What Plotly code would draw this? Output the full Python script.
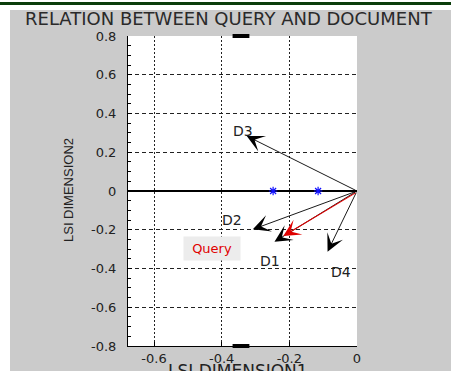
import plotly.graph_objects as go

# ---- data ----
doc_names = ["D1", "D2", "D3", "D4"]
doc_x = [-0.244, -0.308, -0.326, -0.087]
doc_y = [-0.262, -0.198, 0.284, -0.313]
query_name = "Query"
query_x = -0.218
query_y = -0.232
term_x = [-0.248, -0.115]
term_y = [0.0, 0.0]
edge_x = [-0.343, -0.343]
edge_y = [0.8, -0.8]
x_ticks = [-0.6, -0.4, -0.2, 0]
y_ticks = [-0.8, -0.6, -0.4, -0.2, 0, 0.2, 0.4, 0.6, 0.8]
title_text = "RELATION BETWEEN QUERY AND DOCUMENT"
x_title = "LSI DIMENSION1"
y_title = "LSI DIMENSION2"

W, H = 451, 371
L, R, T, B = 128, 94, 36, 25
pw, ph = W - L - R, H - T - B


def px(xp):
    return (xp - L) / pw


def py(yp):
    return (H - B - yp) / ph


fig = go.Figure()

fig.add_trace(go.Scatter(x=term_x, y=term_y, mode="markers",
                         marker=dict(symbol="asterisk-open", size=7, color="#1010ff",
                                     line=dict(color="#1010ff", width=1.2)),
                         showlegend=False, hoverinfo="skip"))
fig.add_trace(go.Scatter(x=edge_x, y=edge_y, mode="markers", cliponaxis=False,
                         marker=dict(symbol="line-ew-open", size=12, color="black",
                                     line=dict(color="black", width=4)),
                         showlegend=False, hoverinfo="skip"))

font = "DejaVu Sans, Verdana, sans-serif"
narrow = "Liberation Sans Narrow, Arial Narrow, Liberation Sans, sans-serif"
txt = "#222222"

annotations = []
# document arrows
for n, xv, yv in zip(doc_names, doc_x, doc_y):
    annotations.append(dict(x=xv, y=yv, ax=0, ay=0, xref="x", yref="y",
                            axref="x", ayref="y", showarrow=True, arrowhead=3,
                            arrowsize=3.2, arrowwidth=0.9, arrowcolor="black",
                            text=""))
# query arrow
annotations.append(dict(x=query_x, y=query_y, ax=0, ay=-0.005, xref="x", yref="y",
                        axref="x", ayref="y", showarrow=True, arrowhead=3,
                        arrowsize=2.6, arrowwidth=1.1, arrowcolor="#e00000",
                        text=""))
# labels
shifts = {"D1": (-4, -19), "D2": (-21, 9), "D3": (-4, 5), "D4": (13, -20)}
for n, xv, yv in zip(doc_names, doc_x, doc_y):
    sx, sy = shifts[n]
    annotations.append(dict(x=xv, y=yv, xref="x", yref="y", showarrow=False,
                            text=n, xshift=sx, yshift=sy,
                            font=dict(family=font, size=14, color=txt)))
annotations.append(dict(x=query_x, y=query_y, xref="x", yref="y", showarrow=False,
                        text="\u00a0" + query_name + "\u00a0", xshift=-71, yshift=-13,
                        bgcolor="#ececec", borderpad=4,
                        font=dict(family=font, size=13, color="#e00000")))
# title
annotations.append(dict(x=px(23), y=py(19), xref="paper", yref="paper",
                        xanchor="left", yanchor="middle", showarrow=False,
                        text=title_text,
                        font=dict(family=font, size=18, color="#2a2a2a")))
# axis titles
annotations.append(dict(x=px(68), y=py(190), xref="paper", yref="paper",
                        xanchor="center", yanchor="middle", showarrow=False,
                        text=y_title, textangle=-90,
                        font=dict(family=narrow, size=13, color=txt)))
annotations.append(dict(x=px(238), y=py(359), xref="paper", yref="paper",
                        xanchor="center", yanchor="top", showarrow=False,
                        text=x_title,
                        font=dict(family=font, size=17, color=txt)))

shapes = [
    dict(type="rect", xref="paper", yref="paper", x0=px(-5), x1=px(10),
         y0=py(H + 5), y1=py(-5), fillcolor="white", line_width=0, layer="below"),
    dict(type="rect", xref="paper", yref="paper", x0=px(-5), x1=px(W + 5),
         y0=py(10), y1=py(-5), fillcolor="white", line_width=0, layer="below"),
    dict(type="line", xref="paper", yref="paper", x0=px(0), x1=px(W),
         y0=py(3.5), y1=py(3.5), line=dict(color="#0b3d0b", width=3)),
]

fig.update_layout(
    width=W, height=H,
    margin=dict(l=L, r=R, t=T, b=B, pad=0, autoexpand=False),
    paper_bgcolor="#cbcbcb", plot_bgcolor="white",
    showlegend=False, hovermode=False,
    annotations=annotations, shapes=shapes,
    font=dict(family=font, size=13, color=txt),
)
fig.update_xaxes(range=[-0.677, 0.0], tickvals=x_ticks, automargin=False,
                 ticktext=["-0.6", "-0.4", "-0.2", "0"],
                 showgrid=True, gridcolor="#222222", gridwidth=1, griddash="2px,2px",
                 zeroline=False, showline=True, linecolor="black", linewidth=1,
                 ticks="inside", ticklen=4, tickcolor="black", ticklabelstandoff=0,
                 tickfont=dict(family=font, size=13, color=txt))
fig.update_yaxes(range=[-0.8, 0.8], tickvals=y_ticks, automargin=False,
                 ticktext=["-0.8", "-0.6", "-0.4", "-0.2", "0", "0.2", "0.4", "0.6", "0.8"],
                 showgrid=True, gridcolor="#222222", gridwidth=1, griddash="4px,3px",
                 zeroline=True, zerolinecolor="black", zerolinewidth=1.6,
                 showline=True, linecolor="black", linewidth=1,
                 ticks="inside", ticklen=4, tickcolor="black", ticklabelstandoff=8,
                 minor=dict(dtick=0.05, ticks="inside", ticklen=3, tickcolor="black",
                            showgrid=False),
                 tickfont=dict(family=font, size=13, color=txt))

fig.write_html("out.html", config={"displayModeBar": False, "staticPlot": True},
               post_script="document.body.style.margin='0';")
